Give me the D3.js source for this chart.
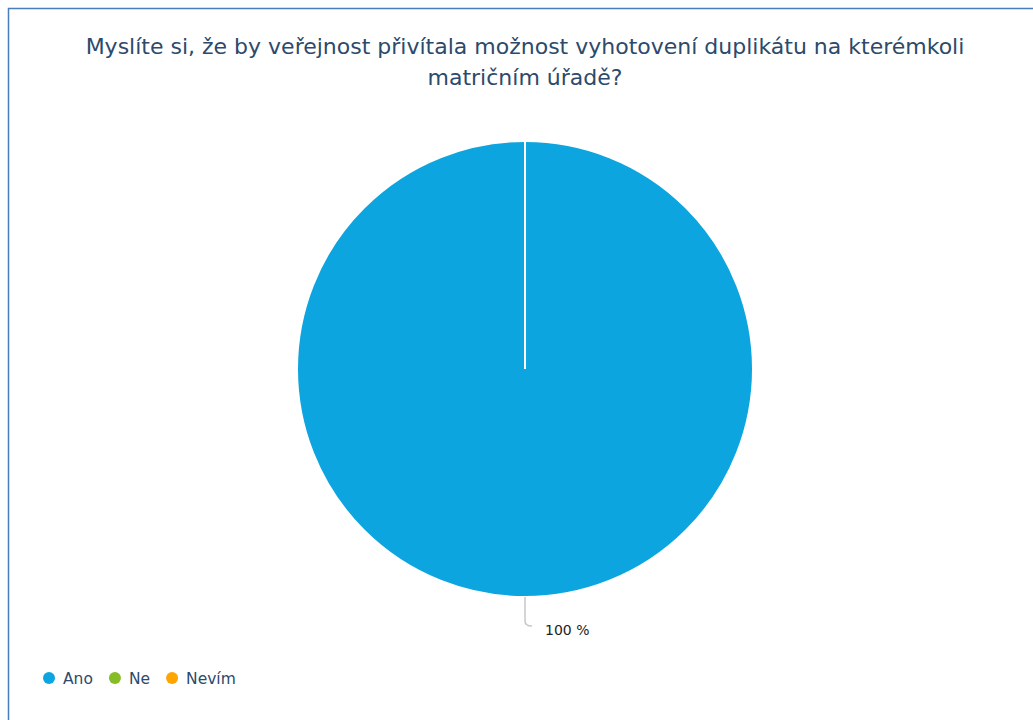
<!DOCTYPE html>
<html>
<head>
<meta charset="utf-8">
<script src="https://cdn.jsdelivr.net/npm/d3@7"></script>
<style>
  body { margin: 0; background: #fff; }
  svg { display: block; font-family: "DejaVu Sans", sans-serif; }
</style>
</head>
<body>
<div class="chart"></div>
<script>
// chart data
var titleLines = ["Myslíte si, že by veřejnost přivítala možnost vyhotovení duplikátu na kterémkoli", "matričním úřadě?"];
var categories = ["Ano", "Ne", "Nevím"];
var values = [100, 0, 0];
var colors = ["#0ca5df", "#86bc25", "#ffa500"];

var width = 1033, height = 720;
var cx = 525, cy = 369, radius = 228;

var svg = d3.select(".chart").append("svg")
    .attr("width", width)
    .attr("height", height);

// frame
svg.append("rect")
    .attr("x", 8.5).attr("y", 8.5)
    .attr("width", width + 20).attr("height", height + 20)
    .attr("fill", "#fff")
    .attr("stroke", "#4a7ebb")
    .attr("stroke-width", 1.5);

// title
svg.append("text")
    .attr("text-anchor", "middle")
    .attr("fill", "#2c4a6b")
    .attr("font-size", 22)
    .selectAll("tspan")
    .data(titleLines)
    .enter().append("tspan")
        .attr("x", cx)
        .attr("y", function(d, i){ return 54 + i * 31; })
        .text(function(d){ return d; });

var data = categories.map(function(c, i){ return {name: c, value: values[i], color: colors[i]}; });

var pie = d3.pie().sort(null).value(function(d){ return d.value; });
var arc = d3.arc().innerRadius(0).outerRadius(radius);
var arcs = pie(data);

var g = svg.append("g").attr("transform", "translate(" + cx + "," + cy + ")");

g.selectAll("path.slice")
    .data(arcs)
    .enter().append("path")
        .attr("class", "slice")
        .attr("d", arc)
        .attr("fill", function(d){ return d.data.color; })
        .attr("stroke", "#fff")
        .attr("stroke-width", 2);

// slice boundary (white separator from centre) for a full slice
g.selectAll("line.sep")
    .data(arcs.filter(function(d){ return d.endAngle - d.startAngle >= 2 * Math.PI - 1e-6; }))
    .enter().append("line")
        .attr("class", "sep")
        .attr("x1", 0).attr("y1", 0)
        .attr("x2", function(d){ return Math.sin(d.startAngle) * radius; })
        .attr("y2", function(d){ return -Math.cos(d.startAngle) * radius; })
        .attr("stroke", "#fff")
        .attr("stroke-width", 2);

// labels for non-zero slices
var total = d3.sum(values);
var labeled = arcs.filter(function(d){ return d.value > 0; });
labeled.forEach(function(d){
    var mid = (d.startAngle + d.endAngle) / 2;
    if (d.endAngle - d.startAngle >= 2 * Math.PI - 1e-6) mid = Math.PI;
    var px = Math.sin(mid) * radius, py = -Math.cos(mid) * radius;
    var ex = Math.sin(mid) * (radius + 24), ey = -Math.cos(mid) * (radius + 24);
    g.append("path")
        .attr("d", "M" + px + "," + py + " L" + ex + "," + ey + " Q" + ex + "," + (ey + 5) + " " + (ex + 7) + "," + (ey + 5))
        .attr("fill", "none")
        .attr("stroke", "#c8c8c8")
        .attr("stroke-width", 1.5);
    g.append("text")
        .attr("x", ex + 20)
        .attr("y", ey + 14)
        .attr("font-size", 14)
        .attr("fill", "#222")
        .text(Math.round(d.value / total * 100) + " %");
});

// legend
var legend = svg.append("g").attr("transform", "translate(49,679)");
var xPos = 0;
categories.forEach(function(c, i){
    var item = legend.append("g").attr("transform", "translate(" + xPos + ",0)");
    item.append("circle").attr("r", 6).attr("cy", -1).attr("fill", colors[i]);
    var t = item.append("text")
        .attr("x", 14).attr("y", 5)
        .attr("font-size", 15.5)
        .attr("fill", "#2c4a6b")
        .text(c);
    xPos += 14 + t.node().getComputedTextLength() + 22;
});
</script>
</body>
</html>
